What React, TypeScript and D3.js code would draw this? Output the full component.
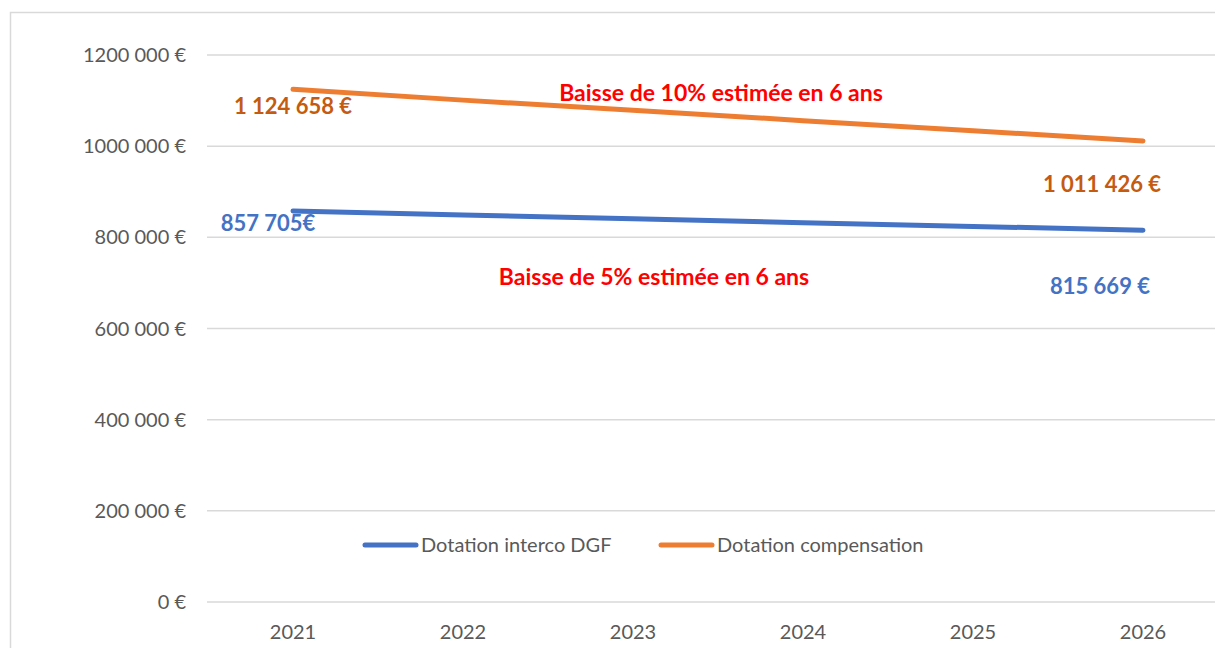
import React, { useEffect, useRef } from 'react';
import * as d3 from 'd3';

// Years on the x axis
const years = ['2021', '2022', '2023', '2024', '2025', '2026'];

// Series values (€)
const dgfValues = [857705, 849000, 841000, 832000, 824000, 815669];
const compValues = [1124658, 1101000, 1079000, 1056000, 1034000, 1011426];

// Y ticks and their labels, as written in the chart
const yTicks = [0, 200000, 400000, 600000, 800000, 1000000, 1200000];
const yTickLabels = ['0 €', '200 000 €', '400 000 €', '600 000 €', '800 000 €', '1000 000 €', '1200 000 €'];

const seriesNames = ['Dotation interco DGF', 'Dotation compensation'];
const endLabels = {
  dgfStart: '857 705€',
  dgfEnd: '815 669 €',
  compStart: '1 124 658 €',
  compEnd: '1 011 426 €',
};
const notes = ['Baisse de 10% estimée en 6 ans', 'Baisse de 5% estimée en 6 ans'];

const W = 1215;
const H = 648;
const FONT = 'Lato, "Open Sans", sans-serif';

const App: React.FC = () => {
  const svgRef = useRef<SVGSVGElement>(null);

  useEffect(() => {
    if (!svgRef.current) return;
    const svg = d3.select(svgRef.current);
    svg.selectAll('*').remove();

    svg.append('rect').attr('width', W).attr('height', H).attr('fill', '#fff');
    // chart frame
    svg.append('rect')
      .attr('x', 10.5).attr('y', 12.5)
      .attr('width', W + 20).attr('height', H + 20)
      .attr('fill', 'none').attr('stroke', '#d9d9d9').attr('stroke-width', 1.5);

    const x = d3.scaleBand().domain(years).range([208, 1228]);
    const y = d3.scaleLinear().domain([0, 1200000]).range([602, 55]);
    const cx = (yr: string) => (x(yr) ?? 0) + x.bandwidth() / 2;

    // gridlines
    svg.append('g')
      .selectAll('line')
      .data(yTicks)
      .join('line')
      .attr('x1', 207).attr('x2', W)
      .attr('y1', d => y(d)).attr('y2', d => y(d))
      .attr('stroke', '#d9d9d9').attr('stroke-width', 1.5);

    // y tick labels
    svg.append('g')
      .selectAll('text')
      .data(yTicks)
      .join('text')
      .attr('x', 186)
      .attr('y', d => y(d))
      .attr('dy', '0.35em')
      .attr('text-anchor', 'end')
      .attr('font-family', FONT)
      .attr('font-size', 20)
      .attr('fill', '#595959')
      .text((d, i) => yTickLabels[i]);

    // x labels
    svg.append('g')
      .selectAll('text')
      .data(years)
      .join('text')
      .attr('x', d => cx(d))
      .attr('y', 632)
      .attr('dy', '0.35em')
      .attr('text-anchor', 'middle')
      .attr('font-family', FONT)
      .attr('font-size', 20)
      .attr('fill', '#595959')
      .text(d => d);

    const line = d3.line<number>()
      .x((d, i) => cx(years[i]))
      .y(d => y(d));

    svg.append('path')
      .datum(compValues)
      .attr('d', line)
      .attr('fill', 'none')
      .attr('stroke', '#ED7D31')
      .attr('stroke-width', 5)
      .attr('stroke-linecap', 'round');

    svg.append('path')
      .datum(dgfValues)
      .attr('d', line)
      .attr('fill', 'none')
      .attr('stroke', '#4472C4')
      .attr('stroke-width', 5)
      .attr('stroke-linecap', 'round');

    // data labels
    const label = (tx: number, ty: number, txt: string, color: string, size: number) =>
      svg.append('text')
        .attr('x', tx).attr('y', ty)
        .attr('dy', '0.35em')
        .attr('text-anchor', 'middle')
        .attr('font-family', FONT)
        .attr('font-size', size)
        .attr('font-weight', 'bold')
        .attr('fill', color)
        .text(txt);

    label(cx('2021'), y(compValues[0]) + 17, endLabels.compStart, '#C55A11', 22);
    label(cx('2026') - 41, y(compValues[5]) + 43, endLabels.compEnd, '#C55A11', 22);
    label(cx('2021') - 25, y(dgfValues[0]) + 12, endLabels.dgfStart, '#4472C4', 22);
    label(cx('2026') - 43, y(dgfValues[5]) + 56, endLabels.dgfEnd, '#4472C4', 22);

    // annotations
    label(721, 93, notes[0], '#FF0000', 23);
    label(654, 277, notes[1], '#FF0000', 23);

    // legend
    const legend = svg.append('g').attr('font-family', FONT).attr('font-size', 20).attr('fill', '#595959');
    const items = [
      { name: seriesNames[0], color: '#4472C4', x0: 365 },
      { name: seriesNames[1], color: '#ED7D31', x0: 661 },
    ];
    items.forEach(it => {
      legend.append('line')
        .attr('x1', it.x0).attr('x2', it.x0 + 51)
        .attr('y1', 545).attr('y2', 545)
        .attr('stroke', it.color).attr('stroke-width', 5)
        .attr('stroke-linecap', 'round');
      legend.append('text')
        .attr('x', it.x0 + 56).attr('y', 545)
        .attr('dy', '0.35em')
        .text(it.name);
    });
  }, []);

  return (
    <svg
      ref={svgRef}
      width={W}
      height={H}
      style={{ position: 'absolute', left: 0, top: 0, display: 'block' }}
    />
  );
};

export default App;
